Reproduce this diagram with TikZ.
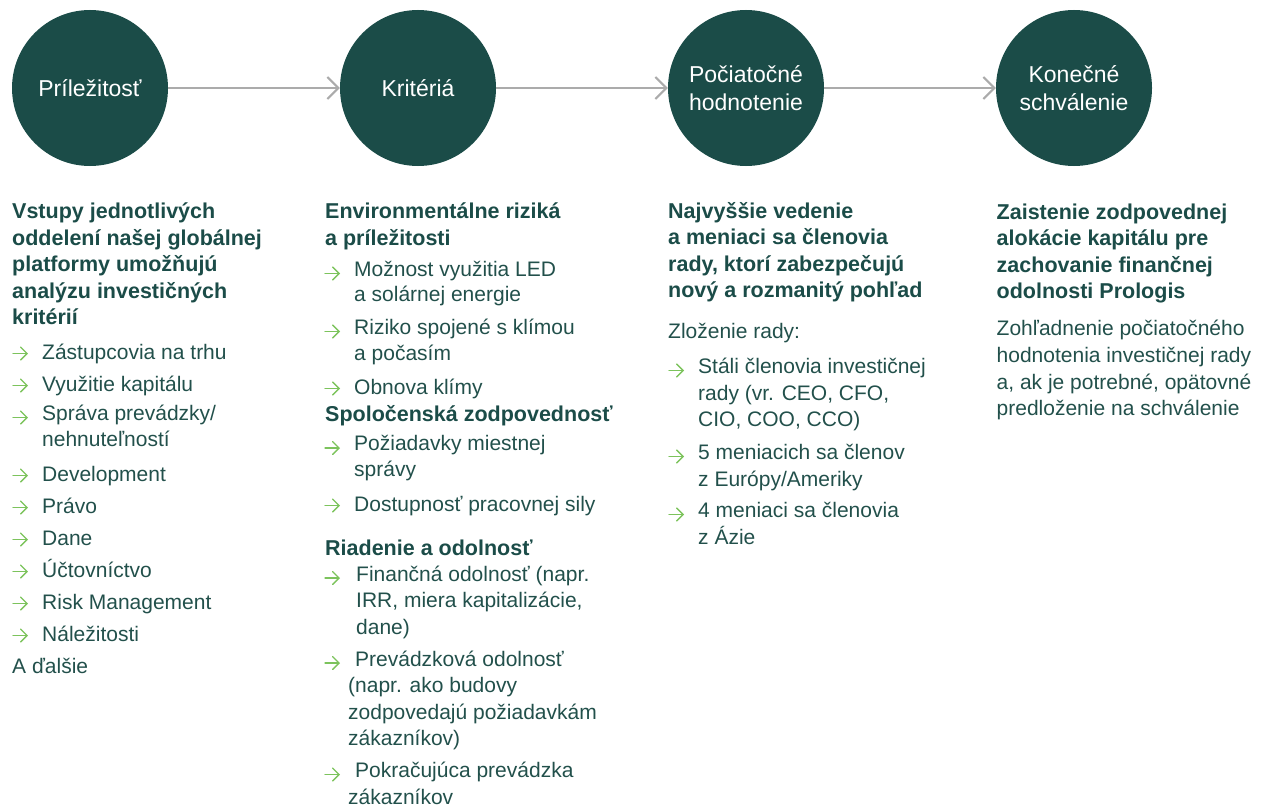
\documentclass[tikz,border=0pt]{standalone}
\usepackage{fontspec}
\setmainfont{Liberation Sans}
\usepackage{tikz}
\usetikzlibrary{arrows.meta,positioning}
\usepackage{xcolor}

\definecolor{pgreen}{HTML}{1B4C48}
\definecolor{ptext}{HTML}{22504B}
\definecolor{bulgreen}{HTML}{7CC35C}
\definecolor{flowgrey}{HTML}{ABABAB}

\newcommand{\bodyfont}{\fontsize{21}{25.5}\selectfont}
\newcommand{\loosefont}{\fontsize{21}{26.6}\selectfont}
\newcommand{\headfont}{\fontsize{21.5}{26.5}\selectfont\bfseries}

\begin{document}
\begin{tikzpicture}[
                x=1pt,y=-1pt,
                stage/.style={circle,fill=pgreen,minimum size=156pt,inner sep=0pt,
                    text=white,align=center,font=\fontsize{23}{27.5}\selectfont},
                flow/.style={draw=flowgrey,line width=2pt,-{Straight Barb[length=11pt,width=22pt]}},
                txt/.style={anchor=north west,inner sep=0pt,align=left,text=ptext,
                    execute at begin node={\rule{0pt}{18pt}}},
                head/.style={txt,text=pgreen,font=\headfont},
                item/.style={txt,font=\bodyfont},
                loose/.style={txt,font=\loosefont},
                bul/.style={draw=bulgreen,line width=1.3pt,line cap=round,
                    -{Straight Barb[length=6.5pt,width=13pt,line cap=round]}}
            ]
                \useasboundingbox (0,0) rectangle (1261,808);

                % stages
                \node[stage] (s1) at (90,88)   {Príležitosť};
                \node[stage] (s2) at (418,88)  {Kritériá};
                \node[stage] (s3) at (746,88)  {Počiatočné\\hodnotenie};
                \node[stage] (s4) at (1074,88) {Konečné\\schválenie};

                \draw[flow] (s1) -- (s2);
                \draw[flow] (s2) -- (s3);
                \draw[flow] (s3) -- (s4);

                % column 1
                \node[head] (h1) at (12,203) {Vstupy jednotlivých\\oddelení našej globálnej\\platformy umožňujú\\analýzu investičných\\kritérií};
                \node[item] (i11) at (42,341) {Zástupcovia na trhu};
                \node[item] (i12) at (42,373) {Využitie kapitálu};
                \node[item] (i13) at (42,405) {Správa prevádzky/\\nehnuteľností};
                \node[item] (i14) at (42,463) {Development};
                \node[item] (i15) at (42,495) {Právo};
                \node[item] (i16) at (42,527) {Dane};
                \node[item] (i17) at (42,559) {Účtovníctvo};
                \node[item] (i18) at (42,591) {Risk Management};
                \node[item] (i19) at (42,623) {Náležitosti};
                \node[item] (m1)  at (12,655) {A ďalšie};

                % column 2
                \node[head] (h2) at (325,203) {Environmentálne riziká\\a príležitosti};
                \node[item] (i21) at (354,261) {Možnost využitia LED\\a solárnej energie};
                \node[item] (i22) at (354,319) {Riziko spojené s klímou\\a počasím};
                \node[item] (i23) at (354,376) {Obnova klímy};
                \node[head] (h3) at (325,403.5) {Spoločenská zodpovednosť};
                \node[item] (i24) at (354,435.5) {Požiadavky miestnej\\správy};
                \node[item] (i25) at (354,493) {Dostupnosť pracovnej sily};
                \node[head] (h4) at (325,537) {Riadenie a odolnosť};
                \node[loose] (i26) at (356,565.5) {Finančná odolnosť (napr.\\IRR, miera kapitalizácie,\\dane)};
                \node[loose] (i27) at (348,650.5) {\hspace*{7pt}Prevádzková odolnosť\\(napr. ako budovy\\zodpovedajú požiadavkám\\zákazníkov)};
                \node[loose] (i28) at (348,762) {\hspace*{7pt}Pokračujúca prevádzka\\zákazníkov};

                % column 3
                \node[head] (h5) at (668,202) {Najvyššie vedenie\\a meniaci sa členovia\\rady, ktorí zabezpečujú\\nový a rozmanitý pohľad};
                \node[item] (b1) at (668,320.5) {Zloženie rady:};
                \node[loose] (i31) at (698,358) {Stáli členovia investičnej\\rady (vr. CEO, CFO,\\CIO, COO, CCO)};
                \node[loose] (i32) at (698,444) {5 meniacich sa členov\\z Európy/Ameriky};
                \node[loose] (i33) at (698,502) {4 meniaci sa členovia\\z Ázie};

                % column 4
                \node[head] (h6) at (996.5,203.5) {Zaistenie zodpovednej\\alokácie kapitálu pre\\zachovanie finančnej\\odolnosti Prologis};
                \node[loose] (b2) at (996.5,320.3) {Zohľadnenie počiatočného\\hodnotenia investičnej rady\\a, ak je potrebné, opätovné\\predloženie na schválenie};

                % bullets
                \foreach \bx/\by in {13/359,13/391,13/423,13/481,13/513,13/545,13/577,13/609,13/641,
                    325/279,325/337,325/394,325/453.5,325/511,325/583.5,325/668.5,325/780,
                    669/376,669/462,669/520}
                    \draw[bul] (\bx,\by-5.5) -- ++(15,0);
            \end{tikzpicture}
\end{document}
